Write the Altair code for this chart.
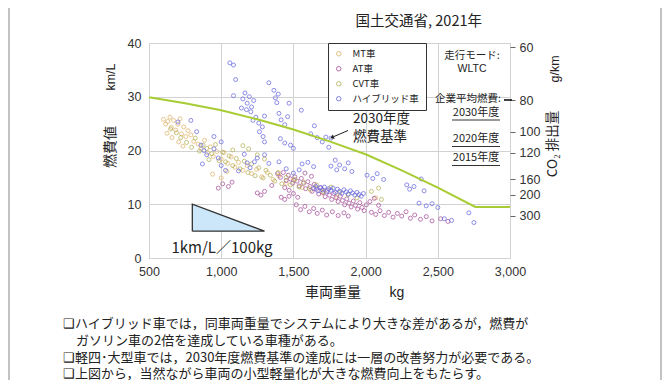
import altair as alt
import pandas as pd

# ---------------- data ----------------
types = ["MT車", "AT車", "CVT車", "ハイブリッド車"]
colors = ["#e2b66e", "#a8529c", "#b3b25a", "#6b6be0"]

mt_points = [(600,25.8),(615,24.9),(630,25.4),(645,26.2),(655,24.3),(670,25.6),(685,23.8),(700,24.9),
             (715,25.9),(725,23.1),(740,24.4),(755,22.6),(770,23.7),(790,22.9),(810,21.7),(625,23.2),
             (660,22.4),(705,21.6),(735,20.8),(840,21.2),(860,20.3),(885,21.9),(905,19.6),(925,20.7),
             (945,18.9),(970,19.8),(1000,18.4),(1020,19.6),(1045,17.6),(1070,18.8),(1095,16.9),(1120,17.8),
             (1150,16.3),(1180,17.2),(1210,15.7),(1245,16.5),(1280,15.1),(1320,15.9),(1360,14.6),(1400,15.3),
             (1450,13.9),(1500,14.5),(1560,13.1),(1620,12.6),(1700,12.1),(1800,11.4),(940,15.6),(1000,14.9),
             (1040,16.1),(2070,11.2)]

at_points = [(980,13.0),(1010,13.8),(1050,13.3),(1075,14.1),(1250,12.1),(1275,11.7),(1300,12.4),(1415,11.3),
             (1440,10.9),(1470,11.5),(1350,13.5),(1390,15.7),(1410,15.0),(1430,15.9),(1450,14.4),(1465,15.4),
             (1480,14.7),(1495,13.9),(1510,15.1),(1525,14.3),(1540,13.4),(1555,14.8),(1570,13.9),(1585,12.9),
             (1600,14.2),(1615,13.3),(1630,12.4),(1645,13.7),(1660,12.8),(1675,11.9),(1690,13.1),(1705,12.2),
             (1720,11.4),(1735,12.6),(1750,11.7),(1765,10.9),(1780,12.0),(1795,11.2),(1810,10.5),(1825,11.5),
             (1840,10.7),(1855,9.9),(1870,11.0),(1885,10.2),(1900,9.5),(1915,10.6),(1930,9.8),(1945,9.1),
             (1960,10.3),(1975,9.4),(1990,8.8),(2005,9.9),(1520,9.9),(1550,9.0),(1580,9.6),(1610,8.6),
             (1640,9.2),(1665,8.3),(1700,8.9),(1730,8.0),(1770,8.6),(1810,7.9),(1850,8.4),(1880,7.8),
             (1470,12.6),(1500,12.0),(1530,11.3),(2030,10.5),(2060,11.1),(2090,9.8),(2040,8.5),(2070,8.1),
             (2100,8.8),(2130,7.9),(2160,8.5),(2190,7.6),(2220,8.3),(2250,7.8),(2280,8.6),(2310,7.4),
             (2340,8.0),(2380,7.2),(2420,7.7),(2460,6.9),(2520,7.3),(2570,6.8),(1580,15.8),(1625,15.2),
             (1440,13.1)]

cvt_points = [(650,24.0),(690,23.3),(720,22.4),(760,21.5),(795,20.6),(820,22.3),(850,19.9),(875,21.0),
              (900,20.4),(915,18.3),(935,19.4),(960,21.1),(985,18.1),(1010,19.7),(1030,17.9),(1055,19.0),
              (1080,17.2),(1105,18.5),(1130,16.6),(1160,18.0),(1185,15.9),(1210,17.5),(1235,15.3),(1260,16.8),
              (1290,14.9),(1310,16.3),(1340,15.4),(1370,14.3),(1395,15.9),(1420,13.8),(1450,15.0),(1480,13.6),
              (1510,14.6),(1540,13.2),(1570,14.1),(1610,12.9),(1660,13.6),(1710,12.4),(1760,13.2),(1820,12.2),
              (1880,11.8),(1940,11.2),(2040,12.4),(2090,13.0),(2110,10.9),(1190,20.3),(1250,19.2),(1300,18.4),
              (1150,20.9),(1080,20.1)]

hv_points = [(1060,36.3),(1085,35.9),(1100,33.2),(1085,30.2),(1150,29.6),(1165,30.7),(1180,28.8),(1195,30.0),
             (1210,28.1),(1225,29.3),(1140,27.9),(1205,27.2),(1175,27.6),(1330,32.6),(1365,31.2),(1375,29.8),
             (1385,28.9),(1395,30.5),(1470,28.8),(1555,27.5),(1240,26.2),(1260,25.1),(1285,24.4),(1265,23.5),
             (1290,22.6),(1300,21.6),(1220,25.6),(1300,26.4),(1400,26.9),(1415,25.7),(1440,24.8),(1460,26.3),
             (1410,22.2),(1440,21.4),(1480,21.0),(1500,20.4),(1620,23.1),(1645,24.6),(1665,22.4),(1700,21.6),
             (1725,22.5),(1760,22.3),(1745,20.6),(1790,18.2),(1820,17.3),(1855,16.6),(1880,17.7),(1905,16.1),
             (1760,17.1),(1800,16.4),(1560,17.5),(1600,17.8),(1640,17.0),(2010,15.4),(2050,14.8),(2080,15.7),
             (2125,14.6),(2285,13.6),(2305,12.8),(2335,13.3),(2385,14.7),(2405,12.5),(2370,10.2),(2420,9.7),
             (2460,10.1),(2500,9.4),(2715,8.4),(2750,6.6),(2545,7.3),(2595,7.0),
             (1640,12.9),(1655,13.3),(1670,12.5),(1685,13.1),(1700,12.7),(1715,13.2),(1730,12.3),(1745,12.9),
             (1760,12.6),(1775,13.0),(1790,12.2),(1805,12.8),(1820,12.4),(1835,12.0),(1850,12.7),(1865,12.3),
             (1880,11.9),(1895,12.5),(1910,12.1),(1925,11.7),(1940,12.2),(1955,11.8),(1970,11.5),(1985,12.0),
             (700,25.3),(790,25.6),(830,23.5),(860,21.0),(880,20.0),(900,19.2),(950,20.3),(980,18.6),
             (1000,17.2),(1030,16.3),(870,17.5),(1120,16.2),(1160,19.3),(1180,17.7),(1250,18.6),(1300,19.2),
             (1330,17.6),(1400,17.9),(1450,16.6),(1500,15.8),(1540,16.4),(1200,16.8),(1230,17.9),(950,22.6),
             (1000,21.6)]

# 2030 fuel economy standard
std_kg = [500, 750, 1000, 1250, 1500, 1750, 2000, 2250, 2500, 2760, 3000]
std_fe = [29.9, 28.8, 27.5, 25.8, 23.9, 21.7, 19.3, 16.3, 13.1, 9.5, 9.5]

# slope triangle "1km/L / 100kg"
tri_kg = [800, 800, 1300, 800]
tri_fe = [5, 10, 5, 5]

x_ticks = [500, 1000, 1500, 2000, 2500, 3000]
y_ticks = [0, 5, 10, 15, 20, 25, 30, 35, 40]
co2_ticks = [60, 80, 100, 120, 160, 200, 300]
CO2_PER_L = 2350  # g-CO2 per litre used for the right-hand scale

bullets = [
    "❑ハイブリッド車では，同車両重量でシステムにより大きな差があるが，燃費が",
    "ガソリン車の2倍を達成している車種がある。",
    "❑軽四･大型車では，2030年度燃費基準の達成には一層の改善努力が必要である。",
    "❑上図から，当然ながら車両の小型軽量化が大きな燃費向上をもたらす。",
]

# ---------------- build ----------------
rows = []
for t, plist in zip(types, [mt_points, at_points, cvt_points, hv_points]):
    for kg, fe in plist:
        rows.append({"kg": kg, "fe": fe, "type": t})
pts_df = pd.DataFrame(rows)

JP = "Noto Sans CJK JP"
NUM = "Liberation Sans"
X0, Y0 = 149, 43  # plot origin on page


def PX(v):
    return v - X0


def PY(v):
    return v - Y0


xs = alt.Scale(domain=[500, 3000], nice=False, zero=False)
ys = alt.Scale(domain=[0, 40], nice=False, zero=False)

scatter = alt.Chart(pts_df).mark_point(
    shape="circle", filled=False, size=16, strokeWidth=0.9, opacity=0.85
).encode(
    x=alt.X("kg:Q", scale=xs, axis=alt.Axis(
        values=x_ticks, format=",.0f", title=None, labelFontSize=12.5, labelFont=NUM,
        labelColor="#333", ticks=False, domain=False, labelPadding=7, labelFlush=False,
        gridColor="#d2d2d2", gridWidth=1)),
    y=alt.Y("fe:Q", scale=ys, axis=alt.Axis(
        values=y_ticks, title=None, labelFontSize=12.5, labelFont=NUM, labelColor="#333",
        ticks=False, domain=False, labelPadding=8, labelFlush=False,
        gridColor="#d2d2d2", gridWidth=1)),
    color=alt.Color("type:N", scale=alt.Scale(domain=types, range=colors), legend=alt.Legend(
        title=None, orient="none", legendX=179, legendY=0, fillColor="white",
        strokeColor="#333", padding=6, labelFontSize=9.5, labelFont=JP, labelColor="#222",
        symbolSize=20, symbolStrokeWidth=1, rowPadding=4, labelOffset=9)),
)

std_df = pd.DataFrame({"kg": std_kg, "fe": std_fe})
std_line = alt.Chart(std_df).mark_line(color="#a8cc34", strokeWidth=2).encode(
    x=alt.X("kg:Q", scale=xs), y=alt.Y("fe:Q", scale=ys))

tri_df = pd.DataFrame({"kg": tri_kg, "fe": tri_fe, "o": list(range(len(tri_kg)))})
tri_fill = alt.Chart(pd.DataFrame({"kg": [tri_kg[1], tri_kg[2]], "top": [tri_fe[1], tri_fe[2]],
                                   "bot": [tri_fe[0], tri_fe[3]]})).mark_area(
    color="#cbe7f9", opacity=1).encode(
    x=alt.X("kg:Q", scale=xs), y=alt.Y("top:Q", scale=ys), y2="bot:Q")
tri_line = alt.Chart(tri_df).mark_line(color="#333", strokeWidth=1.3).encode(
    x=alt.X("kg:Q", scale=xs), y=alt.Y("fe:Q", scale=ys), order="o:Q")


def text(txt, x, y, size, align="left", angle=0, font=JP, color="#222", baseline="middle"):
    return alt.Chart(pd.DataFrame({"t": [txt]})).mark_text(
        align=align, baseline=baseline, fontSize=size, font=font, color=color, angle=angle
    ).encode(x=alt.value(x), y=alt.value(y), text="t:N")


def rule(x1, y1, x2, y2, color="#333", w=1.0):
    return alt.Chart(pd.DataFrame({"a": [0]})).mark_rule(color=color, strokeWidth=w).encode(
        x=alt.value(x1), y=alt.value(y1), x2=alt.value(x2), y2=alt.value(y2))


arrow_head = alt.Chart(pd.DataFrame({"a": [0]})).mark_point(
    shape="triangle-left", filled=True, color="#222", size=22, angle=336, opacity=1
).encode(x=alt.value(PX(332)), y=alt.value(PY(137.5)))

annots = [
    text("国土交通省, 2021年", PX(482), PY(22), 14.5, align="right"),
    text("燃費値", PX(111), PY(147), 14, align="center", angle=270),
    text("km/L", PX(111), PY(77), 12.5, align="center", angle=270, font=NUM),
    text("CO₂ 排出量", PX(553), PY(144), 13.5, align="center", angle=270),
    text("g/km", PX(555), PY(69), 12.5, align="center", angle=270, font=NUM),
    text("車両重量", PX(333), PY(293), 14, align="center"),
    text("kg", PX(397), PY(293), 14, align="center", font=NUM),
    text("走行モード:", PX(472), PY(56), 10.5, align="center"),
    text("WLTC", PX(472), PY(69), 10.5, align="center", font=NUM),
    text("企業平均燃費:", PX(468), PY(98.5), 10.5, align="center"),
    text("2030年度", PX(476), PY(113), 11, align="center"),
    text("2020年度", PX(476), PY(139), 11, align="center"),
    text("2015年度", PX(476), PY(158), 11, align="center"),
    rule(PX(452), PY(120), PX(500), PY(120), "#333", 1),
    rule(PX(452), PY(146.5), PX(500), PY(146.5), "#333", 1),
    rule(PX(452), PY(165.5), PX(500), PY(165.5), "#333", 1),
    rule(PX(504), PY(100), PX(512), PY(100), "#111", 1.6),
    text("2030年度", PX(353), PY(119), 13.5),
    text("燃費基準", PX(353), PY(137), 13.5),
    rule(PX(348), PY(130.5), PX(334), PY(136.5), "#222", 1),
    arrow_head,
    text("1km/L／100kg", PX(222), PY(248), 15, align="center"),
    rule(PX(9), PY(8), PX(9), PY(380), "#9a9a9a", 1.2),
    rule(PX(661), PY(8), PX(661), PY(380), "#9a9a9a", 1.2),
    text(bullets[0], PX(63), PY(324), 13),
    text(bullets[1], PX(76), PY(341), 13),
    text(bullets[2], PX(63), PY(357.5), 13),
    text(bullets[3], PX(63), PY(373.5), 13),
]

main = alt.layer(tri_fill, tri_line, scatter, std_line, *annots)

co2_pos = [CO2_PER_L / v for v in co2_ticks]
right = alt.Chart(pd.DataFrame({"fe": co2_pos})).mark_point(opacity=0).encode(
    y=alt.Y("fe:Q", scale=ys, axis=alt.Axis(
        orient="right", values=co2_pos, title=None,
        labelExpr=f"format({CO2_PER_L}/datum.value, '.0f')",
        labelFontSize=12.5, labelFont=NUM, labelColor="#333", tickSize=5, tickColor="#666",
        ticks=True, domain=False, grid=False, labelPadding=4, labelOverlap=False, labelFlush=False)))

chart = alt.layer(main, right).resolve_scale(y="independent").properties(
    width=361, height=215,
    autosize=alt.AutoSizeParams(type="none"),
    padding={"left": 141, "top": 35, "right": 152, "bottom": 122},
).configure_view(stroke="#7a7a7a", strokeWidth=1.3).configure(background="white")

chart.save("out.html", embed_options={"renderer": "svg", "actions": False})
